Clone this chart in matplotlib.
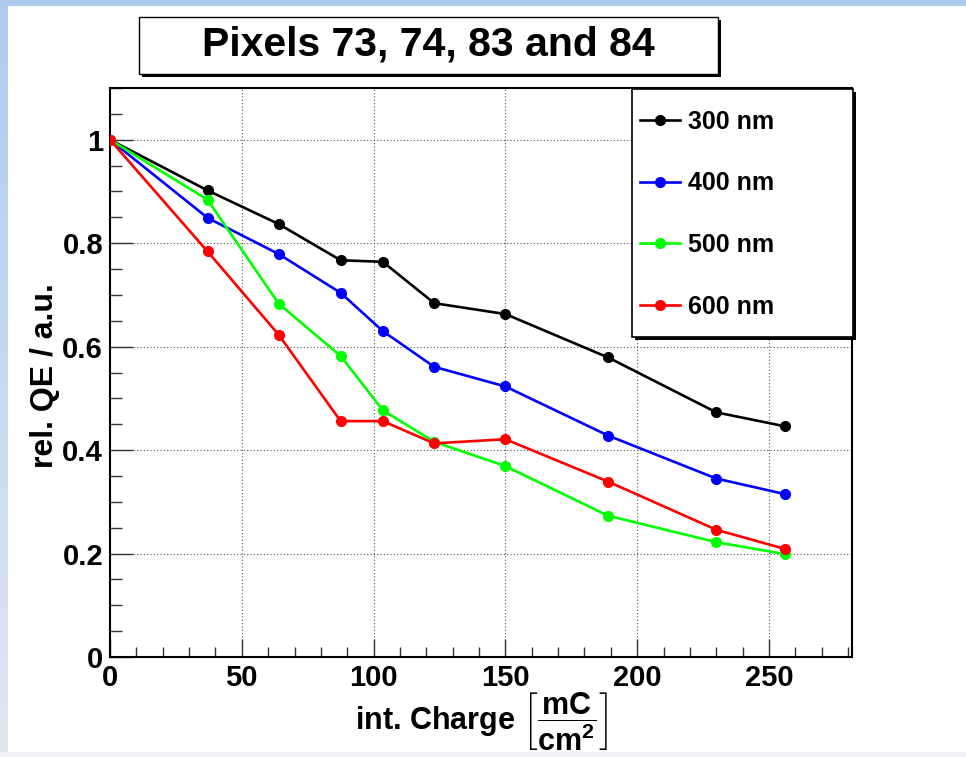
import numpy as np
import matplotlib
matplotlib.use('Agg')
from matplotlib import pyplot as plt
from matplotlib.patches import Rectangle
from matplotlib.ticker import MultipleLocator, FuncFormatter

# integrated charge [mC/cm^2]
charge = [0, 37, 64, 87.5, 103.5, 123, 150, 189, 230, 256]
# relative QE per wavelength
qe_300 = [1.0, 0.902, 0.837, 0.767, 0.764, 0.684, 0.663, 0.579, 0.473, 0.446]
qe_400 = [1.0, 0.849, 0.779, 0.704, 0.630, 0.561, 0.523, 0.428, 0.345, 0.315]
qe_500 = [1.0, 0.884, 0.683, 0.582, 0.477, 0.416, 0.369, 0.273, 0.222, 0.199]
qe_600 = [1.0, 0.784, 0.623, 0.456, 0.456, 0.413, 0.421, 0.339, 0.246, 0.209]
labels = ['300 nm', '400 nm', '500 nm', '600 nm']
colors = ['black', '#0000ff', '#00ff00', '#ff0000']

plt.rcParams['font.family'] = ['Liberation Sans', 'DejaVu Sans']
plt.rcParams['font.weight'] = 'bold'
plt.rcParams['mathtext.fontset'] = 'custom'
plt.rcParams['mathtext.rm'] = 'Liberation Sans:bold'
plt.rcParams['mathtext.it'] = 'Liberation Sans:bold'
plt.rcParams['mathtext.bf'] = 'Liberation Sans:bold'

W, H = 966, 757
fig = plt.figure(figsize=(W / 100, H / 100), dpi=100)

def fx(px):
    return px / W

def fy(py):
    return 1 - py / H

def box(x0, y0, x1, y1, **kw):
    # rectangle given in picture pixels (top-left origin)
    fig.patches.append(Rectangle((fx(x0), fy(y1)), (x1 - x0) / W, (y1 - y0) / H,
                                 transform=fig.transFigure, **kw))

# slide background strips
box(0, 0, W, 5, color='#adc9ec', zorder=0)
grad = np.linspace(0, 1, 200).reshape(-1, 1)
bg = fig.add_axes([0, fy(752), 8 / W, (752 - 5) / H])
bg.imshow(grad, aspect='auto', cmap=matplotlib.colors.LinearSegmentedColormap.from_list(
    'strip', ['#b0cbee', '#dfe7f2']))
bg.axis('off')
box(0, 752, W, H, color='#eef0f3', zorder=0)

ax = fig.add_axes([fx(110), fy(657), (852 - 110) / W, (657 - 88) / H])
series = [qe_300, qe_400, qe_500, qe_600]
for vals, lab, c in zip(series, labels, colors):
    ax.plot(charge, vals, color=c, lw=1.9, marker='o', ms=7, label=lab, zorder=3)

ax.set_xlim(0, 281.5)
ax.set_ylim(0, 1.1)
ax.xaxis.set_major_locator(MultipleLocator(50))
ax.xaxis.set_minor_locator(MultipleLocator(10))
ax.yaxis.set_major_locator(MultipleLocator(0.2))
ax.yaxis.set_minor_locator(MultipleLocator(0.05))
ax.yaxis.set_major_formatter(FuncFormatter(lambda v, p: '%g' % round(v, 2)))
ax.tick_params(axis='both', which='both', direction='in', labelsize=21, pad=5, color='#333333')
ax.tick_params(axis='x', which='major', length=13, width=1)
ax.tick_params(axis='x', which='minor', length=7, width=1)
ax.tick_params(axis='y', which='major', length=16.5, width=1)
ax.tick_params(axis='y', which='minor', length=8.5, width=1)
ax.grid(True, which='major', color='#555555', lw=0.8, linestyle=(0, (1, 2)))
for s in ax.spines.values():
    s.set_linewidth(1.5)

# legend frame with shadow, entries placed inside
box(635, 92, 856, 340, facecolor='black', zorder=5)
box(632, 89, 853, 337, facecolor='white', edgecolor='black', lw=1.2, zorder=6)
leg = ax.legend(loc='upper left', bbox_to_anchor=(fx(640), fy(110)),
                bbox_transform=fig.transFigure, borderaxespad=0, borderpad=0,
                fontsize=18, handlelength=1.6, handletextpad=0.33, labelspacing=1.5,
                frameon=False)
leg.set_zorder(7)
leg.remove()
fig.add_artist(leg)

fig.text(fx(481), fy(722), r'int. Charge $\left[\dfrac{\mathrm{mC}}{\mathrm{cm}^{2}}\right]$',
         ha='center', va='center', fontsize=22)
fig.text(fx(45), fy(376), 'rel. QE / a.u.', rotation=90, ha='center', va='center', fontsize=23)

# title box with shadow
box(142, 20, 721, 77, facecolor='black', zorder=1)
box(139, 17, 718, 74, facecolor='white', edgecolor='black', lw=1, zorder=2)
fig.text(fx(428.5), fy(44), 'Pixels 73, 74, 83 and 84', ha='center', va='center',
         fontsize=29.5, zorder=3)

fig.savefig('out.png', dpi=100)
